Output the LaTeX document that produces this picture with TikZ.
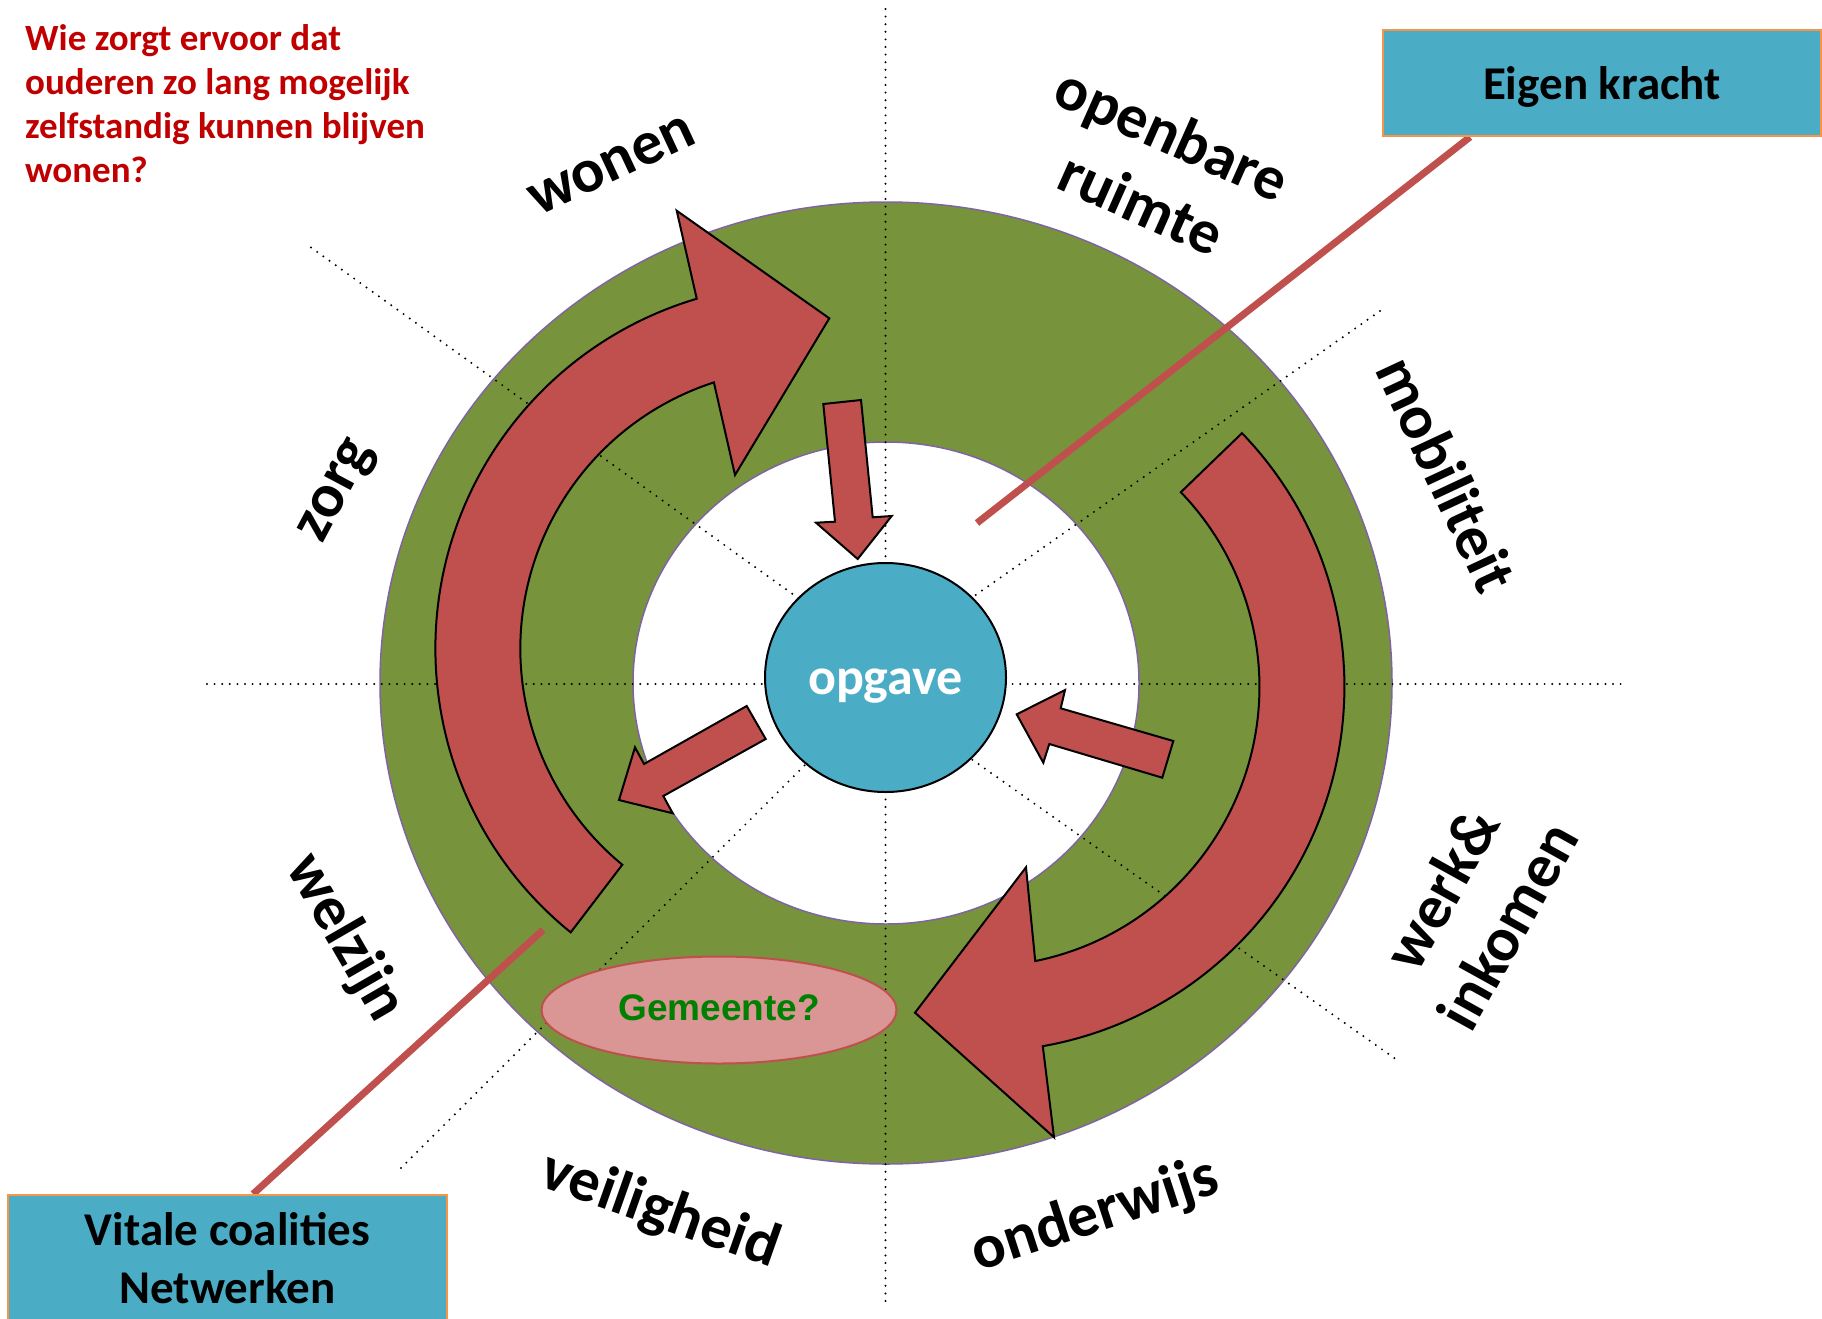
\documentclass[tikz,border=0pt]{standalone}
\usepackage{fontspec}
\setmainfont{Carlito}
\newfontfamily\arialfont{Liberation Sans}
\usetikzlibrary{calc,shapes.geometric}
\definecolor{ringgreen}{HTML}{77933C}
\definecolor{ringedge}{HTML}{8064A2}
\definecolor{arrred}{HTML}{C0504D}
\definecolor{opblue}{HTML}{4BACC6}
\definecolor{boxorange}{HTML}{F79646}
\definecolor{qred}{HTML}{C00000}
\definecolor{gempink}{HTML}{D99694}
\definecolor{gemgreen}{HTML}{008000}
\pgfdeclarelayer{front}
\pgfsetlayers{main,front}
\tikzset{
  sect/.style={line width=2.2pt, dash pattern=on 0pt off 7.6pt, line cap=round, black},
  bigarrow/.style={fill=arrred, draw=black, line width=2pt, line join=miter},
  lbl/.style={font=\fontsize{62}{76}\selectfont\bfseries, align=center, inner sep=0pt},
  qtext/.style={font=\fontsize{37}{44}\selectfont\bfseries, text=qred, anchor=base west, inner sep=0pt},
  infobox/.style={rectangle, fill=opblue, draw=boxorange, line width=2pt, font=\fontsize{47}{58}\selectfont\bfseries, align=center, inner sep=0pt},
  connector/.style={draw=arrred, line width=7pt},
  ringline/.style={draw=ringedge, line width=1.5pt}
}
\begin{document}
\begin{tikzpicture}[x=1pt, y=-1pt]
\fill[white] (0,0) rectangle (1822,1319);
\useasboundingbox (0,0) rectangle (1822,1319);
\clip (0,0) rectangle (1822,1319);

% ring
\coordinate (ctr) at (886,683);
\path[fill=ringgreen, even odd rule] (ctr) ellipse [x radius=506, y radius=481] (ctr) ellipse [x radius=253, y radius=241];
\draw[ringline] (ctr) ellipse [x radius=506, y radius=481];
\draw[ringline] (ctr) ellipse [x radius=253, y radius=241];

% sector dividers
\draw[sect] (885.5,9) -- (885.5,1301);
\draw[sect] (207,684) -- (1624,684);
\draw[sect] (311,247.5) -- (805,603);
\draw[sect] (960,751) -- (1397,1060);
\draw[sect] (1380,311) -- (960,606);
\draw[sect] (401,1168) -- (815,755);

% centre
\node[ellipse, fill=opblue, draw=black, line width=2pt, minimum width=241pt, minimum height=229pt, inner sep=0pt,
      font=\fontsize{52}{60}\selectfont\bfseries, text=white, text height=45pt, text depth=11pt] (opgave) at (885.5,677.5) {opgave};

% big curved arrows
\coordinate (lc) at (800.4,648.7);
\draw[bigarrow] ($(lc)+(129:365)$) arc[start angle=129, end angle=253.5, radius=365]
  -- (676.7,210.7) -- (829.3,318.3) -- (735,475) -- ($(lc)+(252:280)$)
  arc[start angle=252, end angle=129.5, radius=280] -- cycle;
\coordinate (rc) at (979.4,686.7);
\draw[bigarrow] ($(rc)+(-44:365)$) arc[start angle=-44, end angle=80, radius=365]
  -- (1054,1137.3) -- (915,1012.7) -- (1026,867.3) -- ($(rc)+(78.5:280)$)
  arc[start angle=78.5, end angle=-44, radius=280] -- cycle;

% small block arrows
\draw[bigarrow] (823.3,404) -- (861,400) -- (872.7,517.3) -- (891.7,516) -- (857.7,559) -- (816,522.7) -- (835,521.7) -- cycle;
\draw[bigarrow] (1173.3,741) -- (1162.3,777.7) -- (1049.3,744) -- (1043.3,762.7) -- (1016.7,714.3) -- (1065,690) -- (1060.7,708.3) -- cycle;
\draw[bigarrow] (746.7,706) -- (765.7,739) -- (663.3,796) -- (672.7,813.3) -- (619,800) -- (635,747.3) -- (644,764) -- cycle;

% Gemeente
\node[ellipse, fill=gempink, draw=arrred, line width=2pt, minimum width=355pt, minimum height=107pt, inner sep=0pt,
      font=\arialfont\fontsize{37}{42}\selectfont\bfseries, text=gemgreen, text depth=4pt] (gem) at (719,1010) {Gemeente?};

% boxes (front layer)
\begin{pgfonlayer}{front}
\node[infobox, minimum width=438pt, minimum height=106pt, text depth=0pt] (ebox) at (1602,83) {Eigen kracht};
\node[infobox, minimum width=439pt, minimum height=135pt, text depth=10pt] (vbox) at (227.5,1262.5) {Vitale coalities\\Netwerken};
\end{pgfonlayer}

% connectors
\coordinate (ekend) at (977,523);
\coordinate (vcend) at (543,930);
\draw[connector] ($(ebox.south west)!0.2!(ebox.south east)$) -- (ekend);
\draw[connector] (vcend) -- ($(vbox.north west)!0.558!(vbox.north east)$);

% question
\node[qtext] (q1) at (25,50.7) {Wie zorgt ervoor dat};
\node[qtext] (q2) at (25,94.5) {ouderen zo lang mogelijk};
\node[qtext] (q3) at (25,138.5) {zelfstandig kunnen blijven};
\node[qtext] (q4) at (25,182.5) {wonen?};

% sector labels
\node[lbl, rotate=25] (wonen) at (612,166) {wonen};
\node[lbl, rotate=-24] (openbare) at (1157,168) {openbare\\ruimte};
\node[lbl, rotate=-65] (mobiliteit) at (1447,474) {mobiliteit};
\node[lbl, rotate=62] (zorg) at (339,492) {zorg};
\node[lbl, rotate=-60] (welzijn) at (345,938) {welzijn};
\node[lbl, rotate=-19.5] (veiligheid) at (660,1211) {veiligheid};
\node[lbl, rotate=18] (onderwijs) at (1095,1216) {onderwijs};
\node[lbl, rotate=61] (werk) at (1474,907) {werk\&\\inkomen};
\end{tikzpicture}
\end{document}
